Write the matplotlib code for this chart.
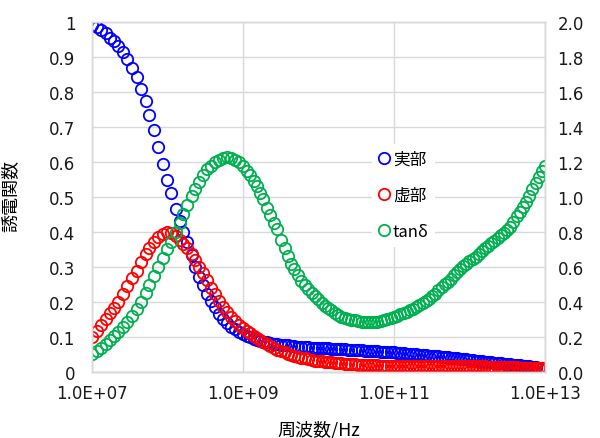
import numpy as np
import matplotlib
matplotlib.use("Agg")
import matplotlib.pyplot as plt
from matplotlib.lines import Line2D

plt.rcParams['font.family'] = ['DejaVu Sans', 'Noto Sans CJK JP']

log_freq = [
    7.00, 7.06, 7.12, 7.18, 7.24, 7.29, 7.35, 7.41, 7.47, 7.53, 7.59, 7.65, 7.71, 7.76, 7.82, 7.88, 7.94, 8.00,
    8.05, 8.11, 8.16, 8.21, 8.26, 8.32, 8.37, 8.42, 8.47, 8.53, 8.58, 8.63, 8.68, 8.74, 8.79, 8.84, 8.89, 8.95, 9.00,
    9.05, 9.09, 9.14, 9.18, 9.23, 9.27, 9.32, 9.36, 9.41, 9.45, 9.50, 9.55, 9.59, 9.64, 9.68, 9.73, 9.77, 9.82,
    9.86, 9.91, 9.95, 10.00,
    10.04, 10.09, 10.13, 10.17, 10.22, 10.26, 10.30, 10.35, 10.39, 10.43, 10.48, 10.52, 10.57, 10.61, 10.65,
    10.70, 10.74, 10.78, 10.83, 10.87, 10.91, 10.96, 11.00,
    11.04, 11.08, 11.13, 11.17, 11.21, 11.25, 11.29, 11.33, 11.38, 11.42, 11.46, 11.50, 11.54, 11.58, 11.63,
    11.67, 11.71, 11.75, 11.79, 11.83, 11.88, 11.92, 11.96, 12.00,
    12.04, 12.08, 12.13, 12.17, 12.21, 12.25, 12.29, 12.33, 12.38, 12.42, 12.46, 12.50, 12.54, 12.58, 12.63,
    12.67, 12.71, 12.75, 12.79, 12.83, 12.88, 12.92, 12.96, 13.00,
]

real_part = [
    0.990, 0.985, 0.977, 0.967, 0.954, 0.944, 0.930, 0.914, 0.893, 0.869, 0.841, 0.809, 0.773, 0.734, 0.690, 0.643, 0.595, 0.548,
    0.512, 0.465, 0.430, 0.398, 0.370, 0.335, 0.300, 0.272, 0.247, 0.222, 0.202, 0.184, 0.166, 0.151, 0.139, 0.129, 0.121, 0.113, 0.107,
    0.102, 0.098, 0.094, 0.091, 0.088, 0.086, 0.084, 0.082, 0.080, 0.079, 0.077, 0.076, 0.075, 0.074, 0.073, 0.072, 0.071, 0.071,
    0.070, 0.069, 0.069, 0.068,
    0.068, 0.067, 0.067, 0.066, 0.066, 0.065, 0.065, 0.064, 0.063, 0.063, 0.062, 0.062, 0.061, 0.060, 0.060,
    0.059, 0.059, 0.058, 0.057, 0.057, 0.056, 0.056, 0.055,
    0.054, 0.054, 0.053, 0.052, 0.051, 0.050, 0.050, 0.049, 0.048, 0.047, 0.046, 0.045, 0.044, 0.044, 0.043,
    0.042, 0.041, 0.040, 0.039, 0.038, 0.037, 0.036, 0.035, 0.034,
    0.033, 0.032, 0.031, 0.030, 0.029, 0.028, 0.027, 0.026, 0.025, 0.024, 0.023, 0.022, 0.021, 0.020, 0.019,
    0.018, 0.017, 0.016, 0.015, 0.014, 0.013, 0.012, 0.011, 0.010,
]

imag_part = [
    0.100, 0.116, 0.133, 0.151, 0.168, 0.183, 0.200, 0.223, 0.245, 0.267, 0.289, 0.313, 0.336, 0.354, 0.370, 0.384, 0.394, 0.398,
    0.396, 0.387, 0.376, 0.364, 0.353, 0.336, 0.318, 0.300, 0.283, 0.261, 0.240, 0.221, 0.203, 0.185, 0.171, 0.157, 0.145, 0.133, 0.124,
    0.117, 0.110, 0.103, 0.097, 0.090, 0.084, 0.078, 0.073, 0.068, 0.063, 0.059, 0.055, 0.051, 0.048, 0.045, 0.042, 0.040, 0.038,
    0.036, 0.034, 0.032, 0.031,
    0.030, 0.029, 0.028, 0.027, 0.026, 0.025, 0.024, 0.023, 0.022, 0.022, 0.021, 0.020, 0.020, 0.019, 0.019,
    0.018, 0.018, 0.018, 0.017, 0.017, 0.017, 0.017, 0.017,
    0.017, 0.017, 0.017, 0.017, 0.017, 0.017, 0.017, 0.017, 0.016, 0.016, 0.016, 0.016, 0.016, 0.016, 0.016,
    0.016, 0.016, 0.015, 0.015, 0.015, 0.015, 0.015, 0.015, 0.015,
    0.015, 0.015, 0.015, 0.015, 0.015, 0.014, 0.014, 0.014, 0.014, 0.014, 0.013, 0.013, 0.013, 0.013, 0.013,
    0.012, 0.012, 0.012, 0.012, 0.011, 0.011, 0.011, 0.010, 0.010,
]

tan_delta = [
    0.100, 0.120, 0.137, 0.160, 0.181, 0.202, 0.228, 0.253, 0.283, 0.317, 0.358, 0.399, 0.452, 0.495, 0.547, 0.600, 0.650, 0.700,
    0.740, 0.800, 0.850, 0.900, 0.955, 1.005, 1.045, 1.087, 1.125, 1.158, 1.178, 1.197, 1.210, 1.220, 1.225, 1.221, 1.212, 1.197, 1.175,
    1.150, 1.122, 1.088, 1.060, 1.020, 0.985, 0.935, 0.898, 0.850, 0.815, 0.755, 0.705, 0.660, 0.615, 0.585, 0.550, 0.520, 0.495,
    0.475, 0.452, 0.433, 0.413,
    0.395, 0.377, 0.362, 0.350, 0.335, 0.323, 0.315, 0.308, 0.302, 0.298, 0.294, 0.290, 0.287, 0.285, 0.284,
    0.284, 0.285, 0.287, 0.290, 0.295, 0.300, 0.307, 0.314,
    0.321, 0.328, 0.336, 0.343, 0.350, 0.360, 0.370, 0.380, 0.392, 0.404, 0.418, 0.432, 0.447, 0.465, 0.483,
    0.500, 0.515, 0.532, 0.550, 0.568, 0.587, 0.602, 0.617, 0.630,
    0.643, 0.657, 0.675, 0.692, 0.705, 0.720, 0.735, 0.750, 0.765, 0.780, 0.795, 0.810, 0.830, 0.855, 0.890,
    0.915, 0.940, 0.970, 1.005, 1.045, 1.080, 1.115, 1.145, 1.175,
]

labels = ["実部", "虚部", "tanδ"]
colors = ["#0000FF", "#FF0000", "#00B050"]

freq = 10 ** np.array(log_freq)
grid_c = "#D9D9D9"
ms = 8.2
mew = 1.3
cjk = ["Noto Sans CJK JP", "DejaVu Sans"]

fig = plt.figure(figsize=(6.0, 4.39), dpi=100)
ax = fig.add_axes([0.1533, 0.151, 0.755, 0.797])
ax2 = ax.twinx()

ax.plot(freq, real_part, "o", mfc="none", mec=colors[0], ms=ms, mew=mew)
ax.plot(freq, imag_part, "o", mfc="none", mec=colors[1], ms=ms, mew=mew)
ax2.plot(freq, tan_delta, "o", mfc="none", mec=colors[2], ms=ms, mew=mew)

ax.set_xscale("log")
ax.set_xlim(1e7, 1e13)
ax.set_ylim(0, 1)
ax2.set_ylim(0, 2)

ax.set_xticks([1e7, 1e9, 1e11, 1e13])
ax.set_xticklabels(["1.0E+07", "1.0E+09", "1.0E+11", "1.0E+13"])
ax.xaxis.set_minor_locator(matplotlib.ticker.NullLocator())
ax.set_yticks(np.arange(0, 1.01, 0.1))
ax.set_yticklabels(["0", "0.1", "0.2", "0.3", "0.4", "0.5", "0.6", "0.7", "0.8", "0.9", "1"])
ax2.set_yticks(np.arange(0, 2.01, 0.2))
ax2.set_yticklabels([f"{v:.1f}" for v in np.arange(0, 2.01, 0.2)])

ax.grid(True, color=grid_c, linewidth=1.0)
ax.set_axisbelow(True)
ax.tick_params(axis="both", length=0, labelsize=12, colors="#1a1a1a")
ax.tick_params(axis="y", pad=12)
ax.tick_params(axis="x", pad=9)
ax2.tick_params(axis="y", length=0, labelsize=12, colors="#1a1a1a", pad=9)

for a in (ax, ax2):
    for s in a.spines.values():
        s.set_color(grid_c)
        s.set_linewidth(1.0)
ax.spines["bottom"].set_color("#BFBFBF")

ax.set_xlabel("周波数/Hz", fontsize=13, family=cjk)
ax.xaxis.set_label_coords(0.5, -0.138)
ax.set_ylabel("誘電関数", fontsize=13, family=cjk)
ax.yaxis.set_label_coords(-0.16, 0.505)

handles = [Line2D([], [], ls="none", marker="o", mfc="none", mec=c, ms=ms, mew=mew) for c in colors]
leg = ax2.legend(handles, labels, loc="upper left", bbox_to_anchor=(0.6, 0.675),
                 frameon=True, fancybox=False, edgecolor="none", framealpha=1.0,
                 handlelength=0.6, handletextpad=0.25, labelspacing=1.15,
                 prop={"family": cjk, "size": 12})

fig.savefig("out.png", dpi=100)
